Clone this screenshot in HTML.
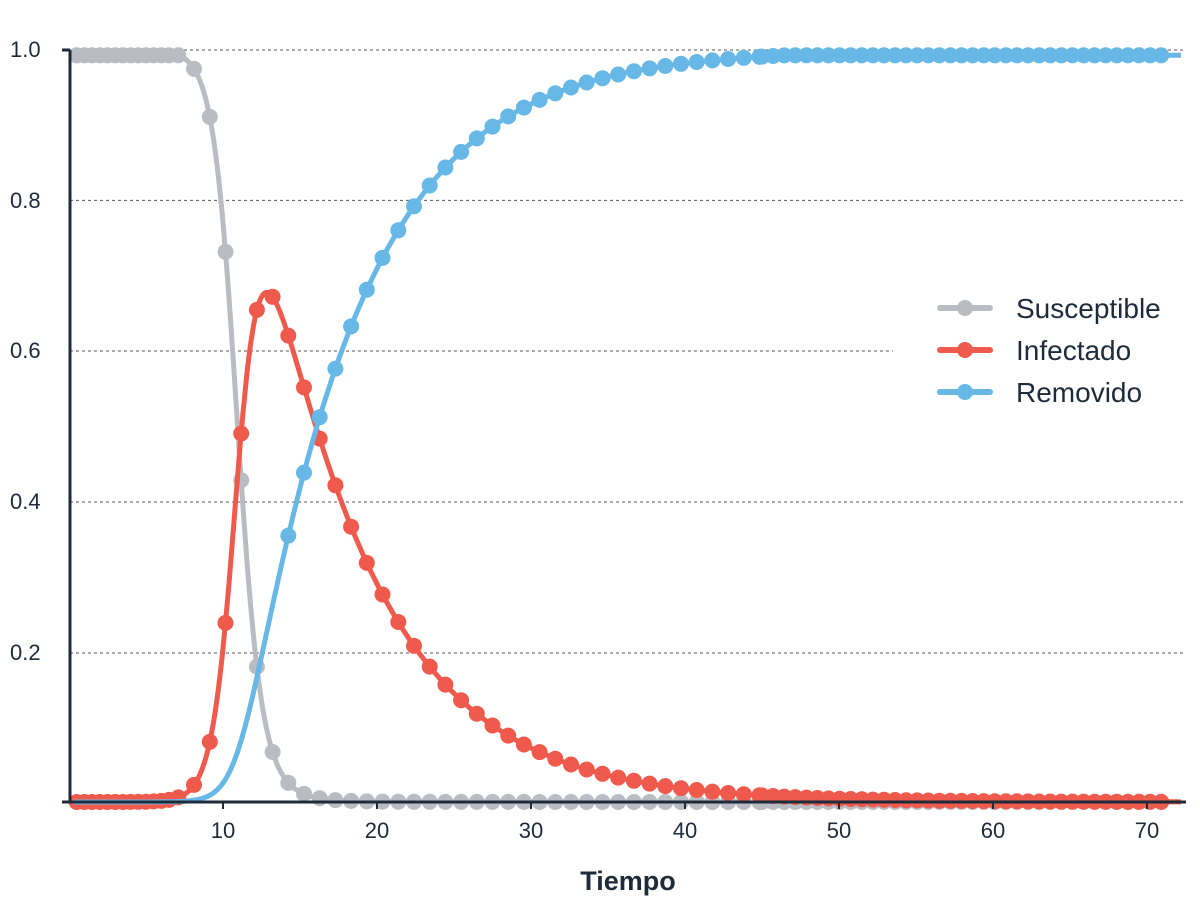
<!DOCTYPE html>
<html><head><meta charset="utf-8"><style>
body{margin:0;background:#fff;}
svg text{font-family:"Liberation Sans",sans-serif;fill:#1d2b3a;}
</style></head><body>
<svg id="s" width="1200" height="910" xmlns="http://www.w3.org/2000/svg">
<g stroke="#555" stroke-width="1" stroke-dasharray="3,3">
<line x1="70" y1="50" x2="1185" y2="50"/>
<line x1="70" y1="200.4" x2="1185" y2="200.4"/>
<line x1="70" y1="351" x2="893" y2="351"/>
<line x1="70" y1="502" x2="1185" y2="502"/>
<line x1="70" y1="653" x2="1185" y2="653"/>
</g>
<g id="plot"></g>
<line x1="70" y1="50" x2="70" y2="803" stroke="#1d2b3a" stroke-width="3"/>
<line x1="62" y1="50" x2="70" y2="50" stroke="#1d2b3a" stroke-width="3"/>
<line x1="62" y1="802" x2="1186" y2="802" stroke="#1d2b3a" stroke-width="3"/>
<g stroke="#1d2b3a" stroke-width="2">
<line x1="223" y1="802" x2="223" y2="809"/><line x1="377" y1="802" x2="377" y2="809"/><line x1="531" y1="802" x2="531" y2="809"/><line x1="685" y1="802" x2="685" y2="809"/><line x1="839" y1="802" x2="839" y2="809"/><line x1="993" y1="802" x2="993" y2="809"/><line x1="1147" y1="802" x2="1147" y2="809"/>
</g>
<g font-size="22" text-anchor="middle">
<text x="223" y="838">10</text><text x="377" y="838">20</text><text x="531" y="838">30</text><text x="685" y="838">40</text><text x="839" y="838">50</text><text x="993" y="838">60</text><text x="1147" y="838">70</text>
</g>
<g font-size="22" text-anchor="start">
<text x="10" y="57">1.0</text><text x="10" y="208">0.8</text><text x="10" y="358">0.6</text><text x="10" y="509">0.4</text><text x="10" y="660">0.2</text>
</g>
<text x="628" y="890" font-size="27" font-weight="bold" text-anchor="middle">Tiempo</text>
<g stroke-width="6" stroke-linecap="round">
<line x1="940" y1="308" x2="990" y2="308" stroke="#b9bcc2"/><circle cx="965" cy="308" r="8" fill="#b9bcc2"/>
<line x1="940" y1="350" x2="990" y2="350" stroke="#ef5a4c"/><circle cx="965" cy="350" r="8" fill="#ef5a4c"/>
<line x1="940" y1="392" x2="990" y2="392" stroke="#67b8e6"/><circle cx="965" cy="392" r="8" fill="#67b8e6"/>
</g>
<g font-size="28"><text x="1016" y="318">Susceptible</text><text x="1016" y="360">Infectado</text><text x="1016" y="402">Removido</text></g>
</svg>
<script>
var beta=1.45,gamma=0.14,dt=0.005;
var S=1-1e-7,I=1e-7,R=0,t=-40,arr=[];
function f(s,i){return [-beta*s*i,beta*s*i-gamma*i,gamma*i];}
while(t<120){arr.push([t,S,I,R]);
var k1=f(S,I),k2=f(S+dt/2*k1[0],I+dt/2*k1[1]),k3=f(S+dt/2*k2[0],I+dt/2*k2[1]),k4=f(S+dt*k3[0],I+dt*k3[1]);
S+=dt/6*(k1[0]+2*k2[0]+2*k3[0]+k4[0]);I+=dt/6*(k1[1]+2*k2[1]+2*k3[1]+k4[1]);R+=dt/6*(k1[2]+2*k2[2]+2*k3[2]+k4[2]);t+=dt;}
var sh=0;for(var j=0;j<arr.length;j++){if(arr[j][1]<0.5){sh=10.95-arr[j][0];break;}}
function val(tt,c){var x=tt-sh;var j=Math.round((x+40)/dt);j=Math.max(0,Math.min(arr.length-1,j));var v=arr[j][c];if(c==1)v=Math.min(v,0.993);if(c==3)v=Math.min(v,0.993);return v;}
function X(tt){return 69+15.4*tt;}function Y(v){return 802-752*v;}
var ts=[];for(var a=0.5;a<7;a+=0.5)ts.push(a);for(var a=7.1;a<45;a+=1.02)ts.push(a);for(var a=45;a<=71.6;a+=0.72)ts.push(a);
var cols=["#b9bcc2","#ef5a4c","#67b8e6"],g=document.getElementById("plot"),out="";
for(var c=1;c<=3;c++){var d="";for(var tt=0.3;tt<=72.3;tt+=0.1){d+=(d?"L":"M")+X(tt).toFixed(1)+","+Y(val(tt,c)).toFixed(1);}
out+='<path d="'+d+'" fill="none" stroke="'+cols[c-1]+'" stroke-width="5" stroke-linejoin="round"/>';
for(var k=0;k<ts.length;k++){if(c==3&&ts[k]<14)continue;out+='<circle cx="'+X(ts[k]).toFixed(1)+'" cy="'+Y(val(ts[k],c)).toFixed(1)+'" r="8" fill="'+cols[c-1]+'"/>';}}
g.innerHTML=out;
</script>
</body></html>
